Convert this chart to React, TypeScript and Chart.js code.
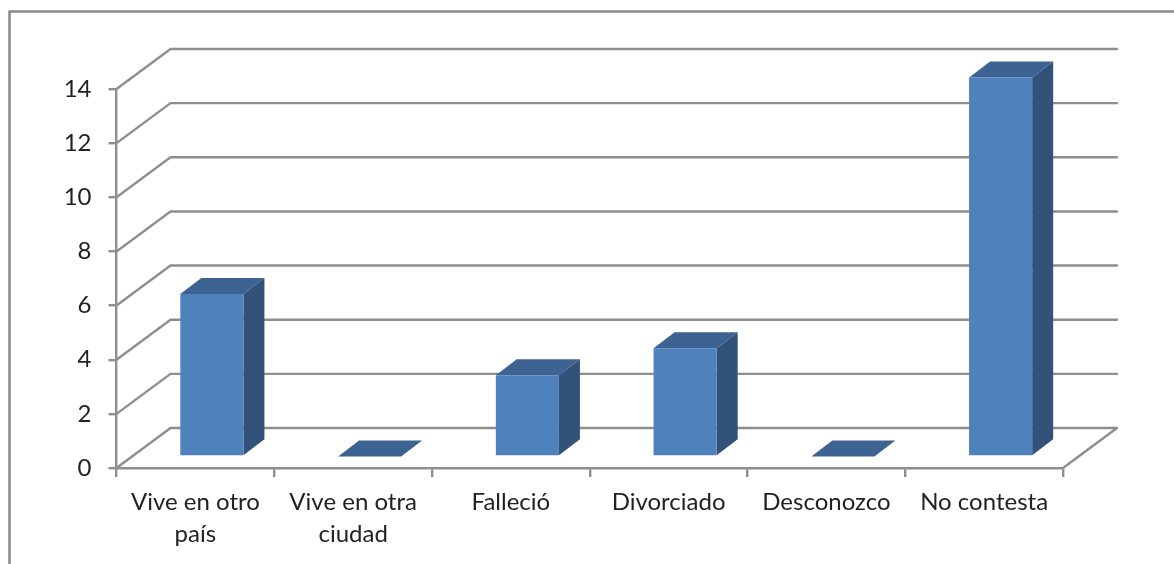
import React, { useEffect, useRef } from "react";
import { Chart, registerables } from "chart.js";

Chart.register(...registerables);

const categories: string[][] = [
  ["Vive en otro", "país"],
  ["Vive en otra", "ciudad"],
  ["Falleció"],
  ["Divorciado"],
  ["Desconozco"],
  ["No contesta"],
];
const seriesValues: number[] = [6, 0, 3, 4, 0, 14];

const AXIS_COLOR = "#8e8e8e";
const FRONT = "#4f81bd";
const TOP = "#3c6392";
const SIDE = "#32527a";
const TEXT = "#222222";
const DEPTH_X = 54;
const DEPTH_Y = -40;
const BAR_SHIFT_X = 16.5;
const BAR_SHIFT_Y = -11.5;
const BAR_DEPTH_X = 21;
const BAR_DEPTH_Y = -16;

const wall3d = {
  id: "wall3d",
  beforeDraw(chart: any) {
    const { ctx, width, height } = chart;
    ctx.save();
    ctx.strokeStyle = "#888888";
    ctx.lineWidth = 2.5;
    ctx.strokeRect(9.5, 11.5, width + 20, height + 20);
    ctx.restore();
  },
  beforeDatasetsDraw(chart: any) {
    const { ctx, scales, chartArea } = chart;
    const y = scales.y;
    ctx.save();
    ctx.strokeStyle = AXIS_COLOR;
    ctx.lineWidth = 2.4;
    ctx.lineCap = "round";
    ctx.lineJoin = "round";
    for (const t of y.ticks) {
      const py = y.getPixelForValue(t.value);
      ctx.beginPath();
      ctx.moveTo(chartArea.left, py);
      ctx.lineTo(chartArea.left + DEPTH_X, py + DEPTH_Y);
      ctx.lineTo(chartArea.right + DEPTH_X, py + DEPTH_Y);
      if (t.value === 0) ctx.lineTo(chartArea.right, py);
      ctx.stroke();
    }
    ctx.restore();

    ctx.save();
    ctx.translate(BAR_SHIFT_X, BAR_SHIFT_Y);
    const meta = chart.getDatasetMeta(0);
    for (const el of meta.data) {
      const p = el.getProps(["x", "y", "base", "width"], true);
      const l = p.x - p.width / 2;
      const r = p.x + p.width / 2;
      ctx.fillStyle = SIDE;
      ctx.beginPath();
      ctx.moveTo(r, p.y);
      ctx.lineTo(r + BAR_DEPTH_X, p.y + BAR_DEPTH_Y);
      ctx.lineTo(r + BAR_DEPTH_X, p.base + BAR_DEPTH_Y);
      ctx.lineTo(r, p.base);
      ctx.closePath();
      ctx.fill();
      ctx.fillStyle = TOP;
      ctx.beginPath();
      ctx.moveTo(l, p.y);
      ctx.lineTo(l + BAR_DEPTH_X, p.y + BAR_DEPTH_Y);
      ctx.lineTo(r + BAR_DEPTH_X, p.y + BAR_DEPTH_Y);
      ctx.lineTo(r, p.y);
      ctx.closePath();
      ctx.fill();
    }
  },
  afterDatasetsDraw(chart: any) {
    chart.ctx.restore();
  },
};

export default function App() {
  const ref = useRef<HTMLCanvasElement>(null);
  useEffect(() => {
    const chart = new Chart(ref.current as HTMLCanvasElement, {
      type: "bar",
      data: {
        labels: categories as any,
        datasets: [
          {
            data: seriesValues,
            backgroundColor: FRONT,
            borderWidth: 0,
            barPercentage: 0.4,
            categoryPercentage: 1,
            clip: false as any,
          },
        ],
      },
      options: {
        responsive: false,
        animation: false,
        layout: { padding: { top: 89, right: 111, left: 0, bottom: 0 } },
        plugins: { legend: { display: false }, tooltip: { enabled: false } },
        scales: {
          x: {
            afterFit(s: any) {
              s.height = 96;
            },
            border: { display: true, color: AXIS_COLOR, width: 2.4 },
            grid: { drawOnChartArea: false, color: AXIS_COLOR, lineWidth: 2.4, tickLength: 9 },
            ticks: {
              color: TEXT,
              font: { family: "Lato", size: 24, lineHeight: 1.33 },
              padding: 9,
              maxRotation: 0,
              autoSkip: false,
            },
          },
          y: {
            min: 0,
            max: 14,
            afterFit(s: any) {
              s.width = 116.5;
            },
            border: { display: true, color: AXIS_COLOR, width: 2.4 },
            grid: { drawOnChartArea: false, color: AXIS_COLOR, lineWidth: 2.4, tickLength: 8 },
            ticks: {
              stepSize: 2,
              color: TEXT,
              font: { family: "Lato", size: 24 },
              padding: 17,
            },
          },
        },
      },
      plugins: [wall3d],
    });
    return () => chart.destroy();
  }, []);
  return (
    <canvas
      ref={ref}
      width={1174}
      height={564}
      style={{ position: "absolute", left: 0, top: 0, display: "block", filter: "blur(0.4px)" }}
    />
  );
}
